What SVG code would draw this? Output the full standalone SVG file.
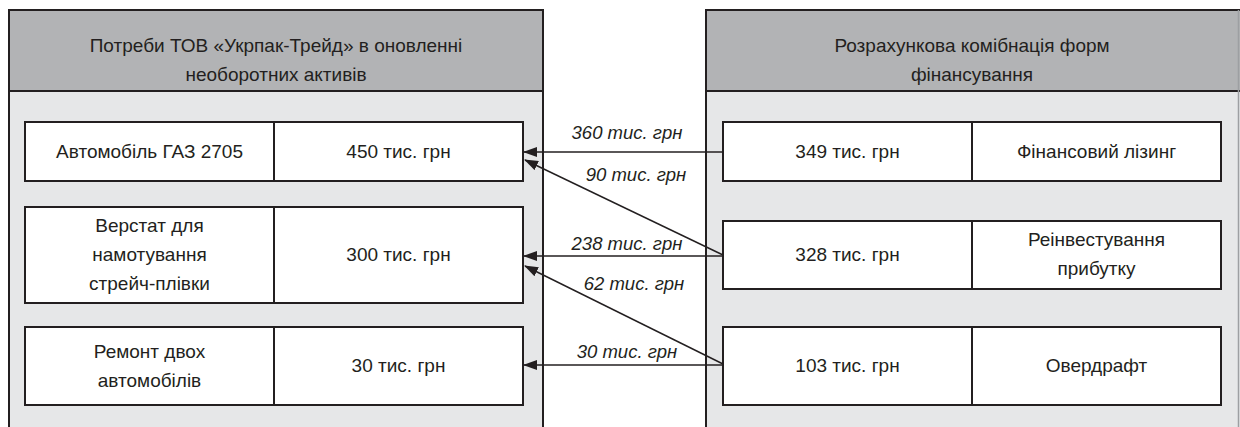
<svg xmlns="http://www.w3.org/2000/svg" width="1240" height="427" viewBox="0 0 1240 427">
<style>
.hdr{fill:#b2b3b5;stroke:#231f20;stroke-width:2}
.body{fill:#e6e7e8;stroke:#231f20;stroke-width:2}
.cell{fill:#ffffff;stroke:#231f20;stroke-width:2}
.t{font-family:"Liberation Sans",Arial,sans-serif;font-size:19px;fill:#231f20;text-anchor:middle}
.lbl{font-family:"Liberation Sans",Arial,sans-serif;font-size:18.5px;font-style:italic;fill:#231f20;text-anchor:middle}
.arr{stroke:#231f20;stroke-width:1.4;fill:none;marker-end:url(#ah)}
</style>
<defs>
<marker id="ah" markerWidth="14" markerHeight="10" refX="13" refY="5" orient="auto" markerUnits="userSpaceOnUse">
<path d="M0,0 L14,5 L0,10 Z" fill="#231f20"/>
</marker>
</defs>
<rect width="1240" height="427" fill="#ffffff"/>

<g id="left-panel">
<rect class="body" x="9" y="10" width="534" height="430"/>
<rect class="hdr" x="9" y="10" width="534" height="81"/>
<text class="t" x="276" y="52">Потреби ТОВ «Укрпак-Трейд» в оновленні</text>
<text class="t" x="276" y="81">необоротних активів</text>
</g>

<g id="right-panel">
<rect class="body" x="706" y="10" width="540" height="430"/>
<rect class="hdr" x="706" y="10" width="540" height="81"/>
<line x1="1238.5" y1="10" x2="1238.5" y2="427" stroke="#9d9fa2" stroke-width="1.5"/>
<text class="t" x="972" y="52">Розрахункова комібнація форм</text>
<text class="t" x="972" y="81">фінансування</text>
</g>

<g id="need-car">
<rect class="cell" x="25" y="122" width="249" height="59"/>
<rect class="cell" x="274" y="122" width="249" height="59"/>
<text class="t" x="149.5" y="158">Автомобіль ГАЗ 2705</text>
<text class="t" x="398.5" y="158">450 тис. грн</text>
</g>

<g id="need-machine">
<rect class="cell" x="25" y="207" width="249" height="96"/>
<rect class="cell" x="274" y="207" width="249" height="96"/>
<text class="t" x="149.5" y="232">Верстат для</text>
<text class="t" x="149.5" y="261">намотування</text>
<text class="t" x="149.5" y="290">стрейч-плівки</text>
<text class="t" x="398.5" y="261">300 тис. грн</text>
</g>

<g id="need-repair">
<rect class="cell" x="25" y="327" width="249" height="78"/>
<rect class="cell" x="274" y="327" width="249" height="78"/>
<text class="t" x="149.5" y="358">Ремонт двох</text>
<text class="t" x="149.5" y="387">автомобілів</text>
<text class="t" x="398.5" y="372">30 тис. грн</text>
</g>

<g id="src-leasing">
<rect class="cell" x="723" y="122" width="249" height="59"/>
<rect class="cell" x="972" y="122" width="249" height="59"/>
<text class="t" x="847.5" y="158">349 тис. грн</text>
<text class="t" x="1096.5" y="158">Фінансовий лізинг</text>
</g>

<g id="src-reinvest">
<rect class="cell" x="723" y="221" width="249" height="68"/>
<rect class="cell" x="972" y="221" width="249" height="68"/>
<text class="t" x="847.5" y="261">328 тис. грн</text>
<text class="t" x="1096.5" y="246">Реінвестування</text>
<text class="t" x="1096.5" y="275">прибутку</text>
</g>

<g id="src-overdraft">
<rect class="cell" x="723" y="327" width="249" height="78"/>
<rect class="cell" x="972" y="327" width="249" height="78"/>
<text class="t" x="847.5" y="372">103 тис. грн</text>
<text class="t" x="1096.5" y="372">Овердрафт</text>
</g>

<g id="connectors">
<line class="arr" x1="723" y1="152" x2="524" y2="152"/>
<line class="arr" x1="723" y1="255" x2="525" y2="160"/>
<line class="arr" x1="723" y1="256" x2="524" y2="256"/>
<line class="arr" x1="723" y1="364" x2="525" y2="266"/>
<line class="arr" x1="723" y1="365" x2="524" y2="365"/>
<text class="lbl" x="627" y="139">360 тис. грн</text>
<text class="lbl" x="636" y="181">90 тис. грн</text>
<text class="lbl" x="627" y="250">238 тис. грн</text>
<text class="lbl" x="634" y="290">62 тис. грн</text>
<text class="lbl" x="627" y="358">30 тис. грн</text>
</g>
</svg>
